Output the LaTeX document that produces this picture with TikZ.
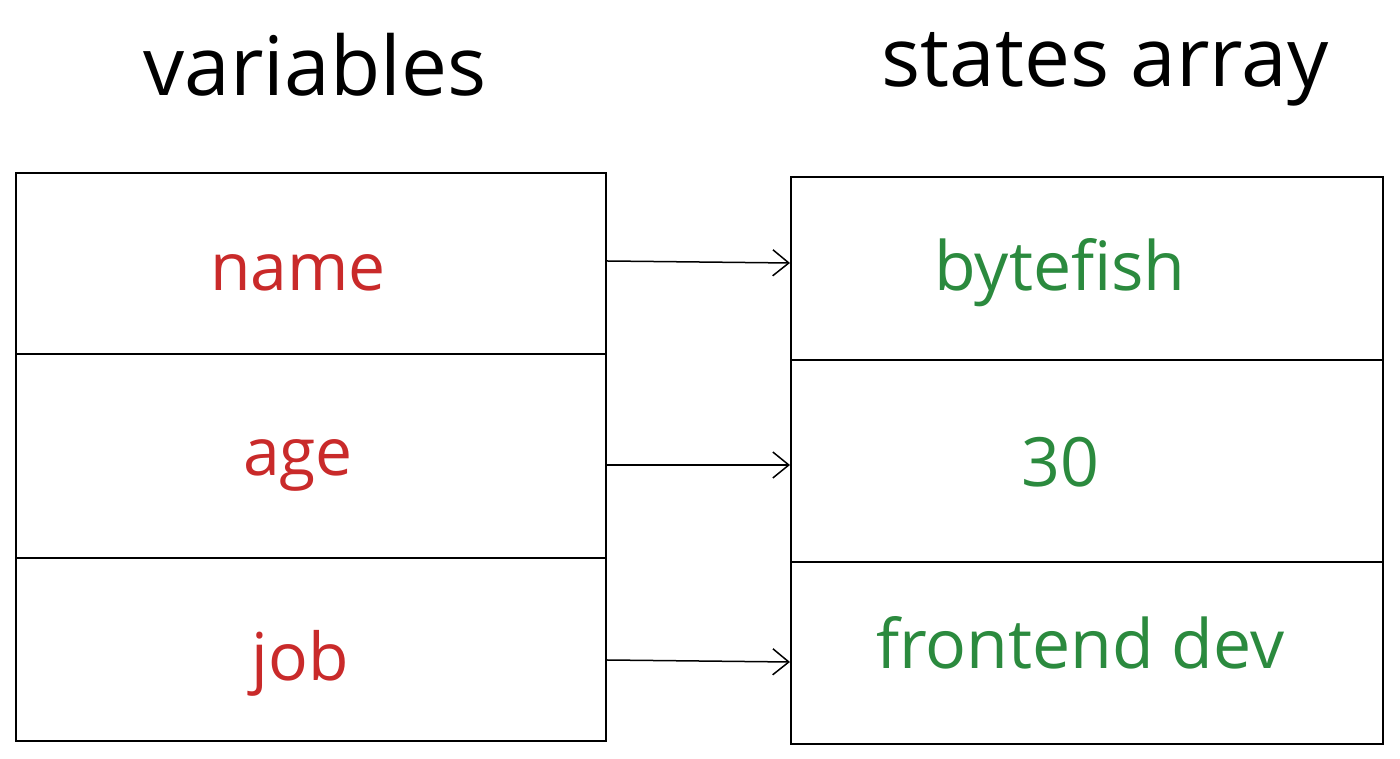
\documentclass[tikz,border=0pt]{standalone}
\usepackage{fontspec}
\setmainfont{Open Sans}
\usetikzlibrary{arrows.meta}
\definecolor{exred}{HTML}{C92A2A}
\definecolor{exgreen}{HTML}{2B8A3E}
\begin{document}
\begin{tikzpicture}[x=1pt,y=1pt,
  boxline/.style={draw=black,line width=1.8pt},
  conn/.style={draw=black,line width=1.5pt,-{Straight Barb[length=16pt,width=26pt,line width=1.5pt]}},
  title/.style={font=\fontsize{82}{90}\selectfont,text=black},
  varlabel/.style={font=\fontsize{66}{76}\selectfont,text=exred},
  vallabel/.style={font=\fontsize{68}{78}\selectfont,text=exgreen}]
\useasboundingbox (0,0) rectangle (1400,759);
% titles
\node[title] (t1) at (315,694) {variables};
\node[title] (t2) at (1105,690) {states array};
% left column cells
\node[boxline,minimum width=590pt,minimum height=181pt,anchor=north west,inner sep=0pt] (c1) at (15,587) {};
\node[boxline,minimum width=590pt,minimum height=204pt,anchor=north west,inner sep=0pt] (c2) at (15,406) {};
\node[boxline,minimum width=590pt,minimum height=183pt,anchor=north west,inner sep=0pt] (c3) at (15,202) {};
% right column cells
\node[boxline,minimum width=592pt,minimum height=183pt,anchor=north west,inner sep=0pt] (d1) at (790,583) {};
\node[boxline,minimum width=592pt,minimum height=202pt,anchor=north west,inner sep=0pt] (d2) at (790,400) {};
\node[boxline,minimum width=592pt,minimum height=182pt,anchor=north west,inner sep=0pt] (d3) at (790,198) {};
% labels
\node[varlabel] (n1) at (298,486) {name};
\node[varlabel] (n2) at (298,294) {age};
\node[varlabel] (n3) at (300,96) {job};
\node[vallabel] (v1) at (1060,486) {bytefish};
\node[vallabel] (v2) at (1060,297) {30};
\node[vallabel] (v3) at (1080,116) {frontend dev};
% arrows
\draw[conn] (c1.east |- 0,498) -- (d1.west |- 0,496);
\draw[conn] (c2.east |- 0,294) -- (d2.west |- 0,294);
\draw[conn] (c3.east |- 0,99) -- (d3.west |- 0,97);
\end{tikzpicture}
\end{document}
